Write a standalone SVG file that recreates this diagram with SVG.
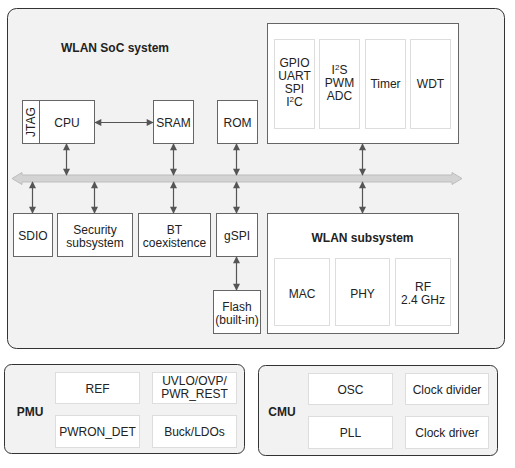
<svg xmlns="http://www.w3.org/2000/svg" width="515" height="468" viewBox="0 0 515 468">
<style>
text{font-family:"Liberation Sans",Arial,sans-serif;font-size:12px;fill:#222;text-anchor:middle}
.b{font-weight:bold}
.cont{fill:#f2f2f2;stroke:#333;stroke-width:1}
.box{fill:#fff;stroke:#666;stroke-width:1}
.sub{fill:#fff;stroke:#ddd;stroke-width:1}
.ar{stroke:#555;stroke-width:1.2;fill:none;marker-start:url(#ah);marker-end:url(#ah)}
</style>
<defs>
<marker id="ah" viewBox="0 0 10 10" refX="9" refY="5" markerWidth="8" markerHeight="7" markerUnits="userSpaceOnUse" orient="auto-start-reverse">
<path d="M0,0 L10,5 L0,10 z" fill="#555"/>
</marker>
</defs>
<rect width="515" height="468" fill="#fff"/>
<g id="soc">
<rect class="cont" x="7.5" y="8.5" width="497" height="340" rx="9"/>
<text class="b" x="115" y="52">WLAN SoC system</text>
</g>
<g id="bus">
<path d="M12,178.5 L22,172.5 L22,175 L452,175 L452,172.5 L462,178.5 L452,184.5 L452,182 L22,182 L22,184.5 z" fill="#d3d3d3" stroke="#bdbdbd" stroke-width="1"/>
</g>
<g id="cpu">
<rect class="box" x="22.5" y="100.5" width="17" height="43"/>
<text transform="translate(35,122) rotate(-90)">JTAG</text>
<rect class="box" x="39.5" y="100.5" width="55" height="43"/>
<text x="67" y="127">CPU</text>
</g>
<g id="sram">
<rect class="box" x="153.5" y="100.5" width="40" height="43"/>
<text x="173.5" y="127">SRAM</text>
</g>
<g id="rom">
<rect class="box" x="217.5" y="100.5" width="40" height="43"/>
<text x="237.5" y="127">ROM</text>
</g>
<g id="periph">
<rect class="box" x="267.5" y="23.5" width="191" height="120"/>
<rect class="sub" x="274.5" y="39.5" width="40" height="89"/>
<text x="294.5" y="67">GPIO</text>
<text x="294.5" y="80">UART</text>
<text x="294.5" y="93">SPI</text>
<text x="294.5" y="106">I<tspan font-size="8" dy="-4">2</tspan><tspan dy="4">C</tspan></text>
<rect class="sub" x="319.5" y="39.5" width="40" height="89"/>
<text x="339.5" y="74">I<tspan font-size="8" dy="-4">2</tspan><tspan dy="4">S</tspan></text>
<text x="339.5" y="87">PWM</text>
<text x="339.5" y="100">ADC</text>
<rect class="sub" x="365.5" y="39.5" width="40" height="89"/>
<text x="385.5" y="88">Timer</text>
<rect class="sub" x="410.5" y="39.5" width="40" height="89"/>
<text x="430.5" y="88">WDT</text>
</g>
<g id="sdio">
<rect class="box" x="13.5" y="213.5" width="39" height="43"/>
<text x="33" y="240">SDIO</text>
</g>
<g id="security">
<rect class="box" x="57.5" y="213.5" width="75" height="43"/>
<text x="95" y="234">Security</text>
<text x="95" y="247">subsystem</text>
</g>
<g id="bt">
<rect class="box" x="138.5" y="213.5" width="72" height="43"/>
<text x="174.5" y="234">BT</text>
<text x="174.5" y="247">coexistence</text>
</g>
<g id="gspi">
<rect class="box" x="216.5" y="213.5" width="41" height="43"/>
<text x="237" y="240">gSPI</text>
</g>
<g id="flash">
<rect class="box" x="213.5" y="290.5" width="47" height="43"/>
<text x="237" y="311">Flash</text>
<text x="237" y="324">(built-in)</text>
</g>
<g id="wlan">
<rect class="box" x="267.5" y="213.5" width="191" height="120"/>
<text class="b" x="362.5" y="242">WLAN subsystem</text>
<rect class="sub" x="274.5" y="258.5" width="55" height="67"/>
<text x="302" y="298">MAC</text>
<rect class="sub" x="335.5" y="258.5" width="54" height="67"/>
<text x="362.5" y="298">PHY</text>
<rect class="sub" x="395.5" y="258.5" width="55" height="67"/>
<text x="423" y="291">RF</text>
<text x="423" y="304">2.4 GHz</text>
</g>
<g id="pmu">
<rect class="cont" x="4.5" y="364.5" width="240" height="89" rx="7"/>
<text class="b" x="30" y="416">PMU</text>
<rect class="sub" x="55.5" y="372.5" width="84" height="31"/>
<text x="97.5" y="393">REF</text>
<rect class="sub" x="152.5" y="372.5" width="84" height="31"/>
<text x="194.5" y="385">UVLO/OVP/</text>
<text x="194.5" y="398">PWR_REST</text>
<rect class="sub" x="55.5" y="415.5" width="84" height="32"/>
<text x="97.5" y="436">PWRON_DET</text>
<rect class="sub" x="152.5" y="415.5" width="84" height="32"/>
<text x="194.5" y="436">Buck/LDOs</text>
</g>
<g id="cmu">
<rect class="cont" x="258.5" y="365.5" width="239" height="90" rx="7"/>
<text class="b" x="282" y="416">CMU</text>
<rect class="sub" x="308.5" y="373.5" width="84" height="31"/>
<text x="350.5" y="394">OSC</text>
<rect class="sub" x="405.5" y="373.5" width="83" height="31"/>
<text x="447" y="394">Clock divider</text>
<rect class="sub" x="308.5" y="416.5" width="84" height="32"/>
<text x="350.5" y="437">PLL</text>
<rect class="sub" x="405.5" y="416.5" width="83" height="32"/>
<text x="447" y="437">Clock driver</text>
</g>
<g id="connectors">
<line class="ar" x1="95" y1="122.5" x2="153" y2="122.5"/>
<line class="ar" x1="66.5" y1="144" x2="66.5" y2="175"/>
<line class="ar" x1="173.5" y1="144" x2="173.5" y2="175"/>
<line class="ar" x1="236.5" y1="144" x2="236.5" y2="175"/>
<line class="ar" x1="362.5" y1="144" x2="362.5" y2="175"/>
<line class="ar" x1="32.5" y1="182" x2="32.5" y2="213"/>
<line class="ar" x1="94.5" y1="182" x2="94.5" y2="213"/>
<line class="ar" x1="173.5" y1="182" x2="173.5" y2="213"/>
<line class="ar" x1="236.5" y1="182" x2="236.5" y2="213"/>
<line class="ar" x1="362.5" y1="182" x2="362.5" y2="213"/>
<line class="ar" x1="236.5" y1="257" x2="236.5" y2="290"/>
</g>
</svg>
